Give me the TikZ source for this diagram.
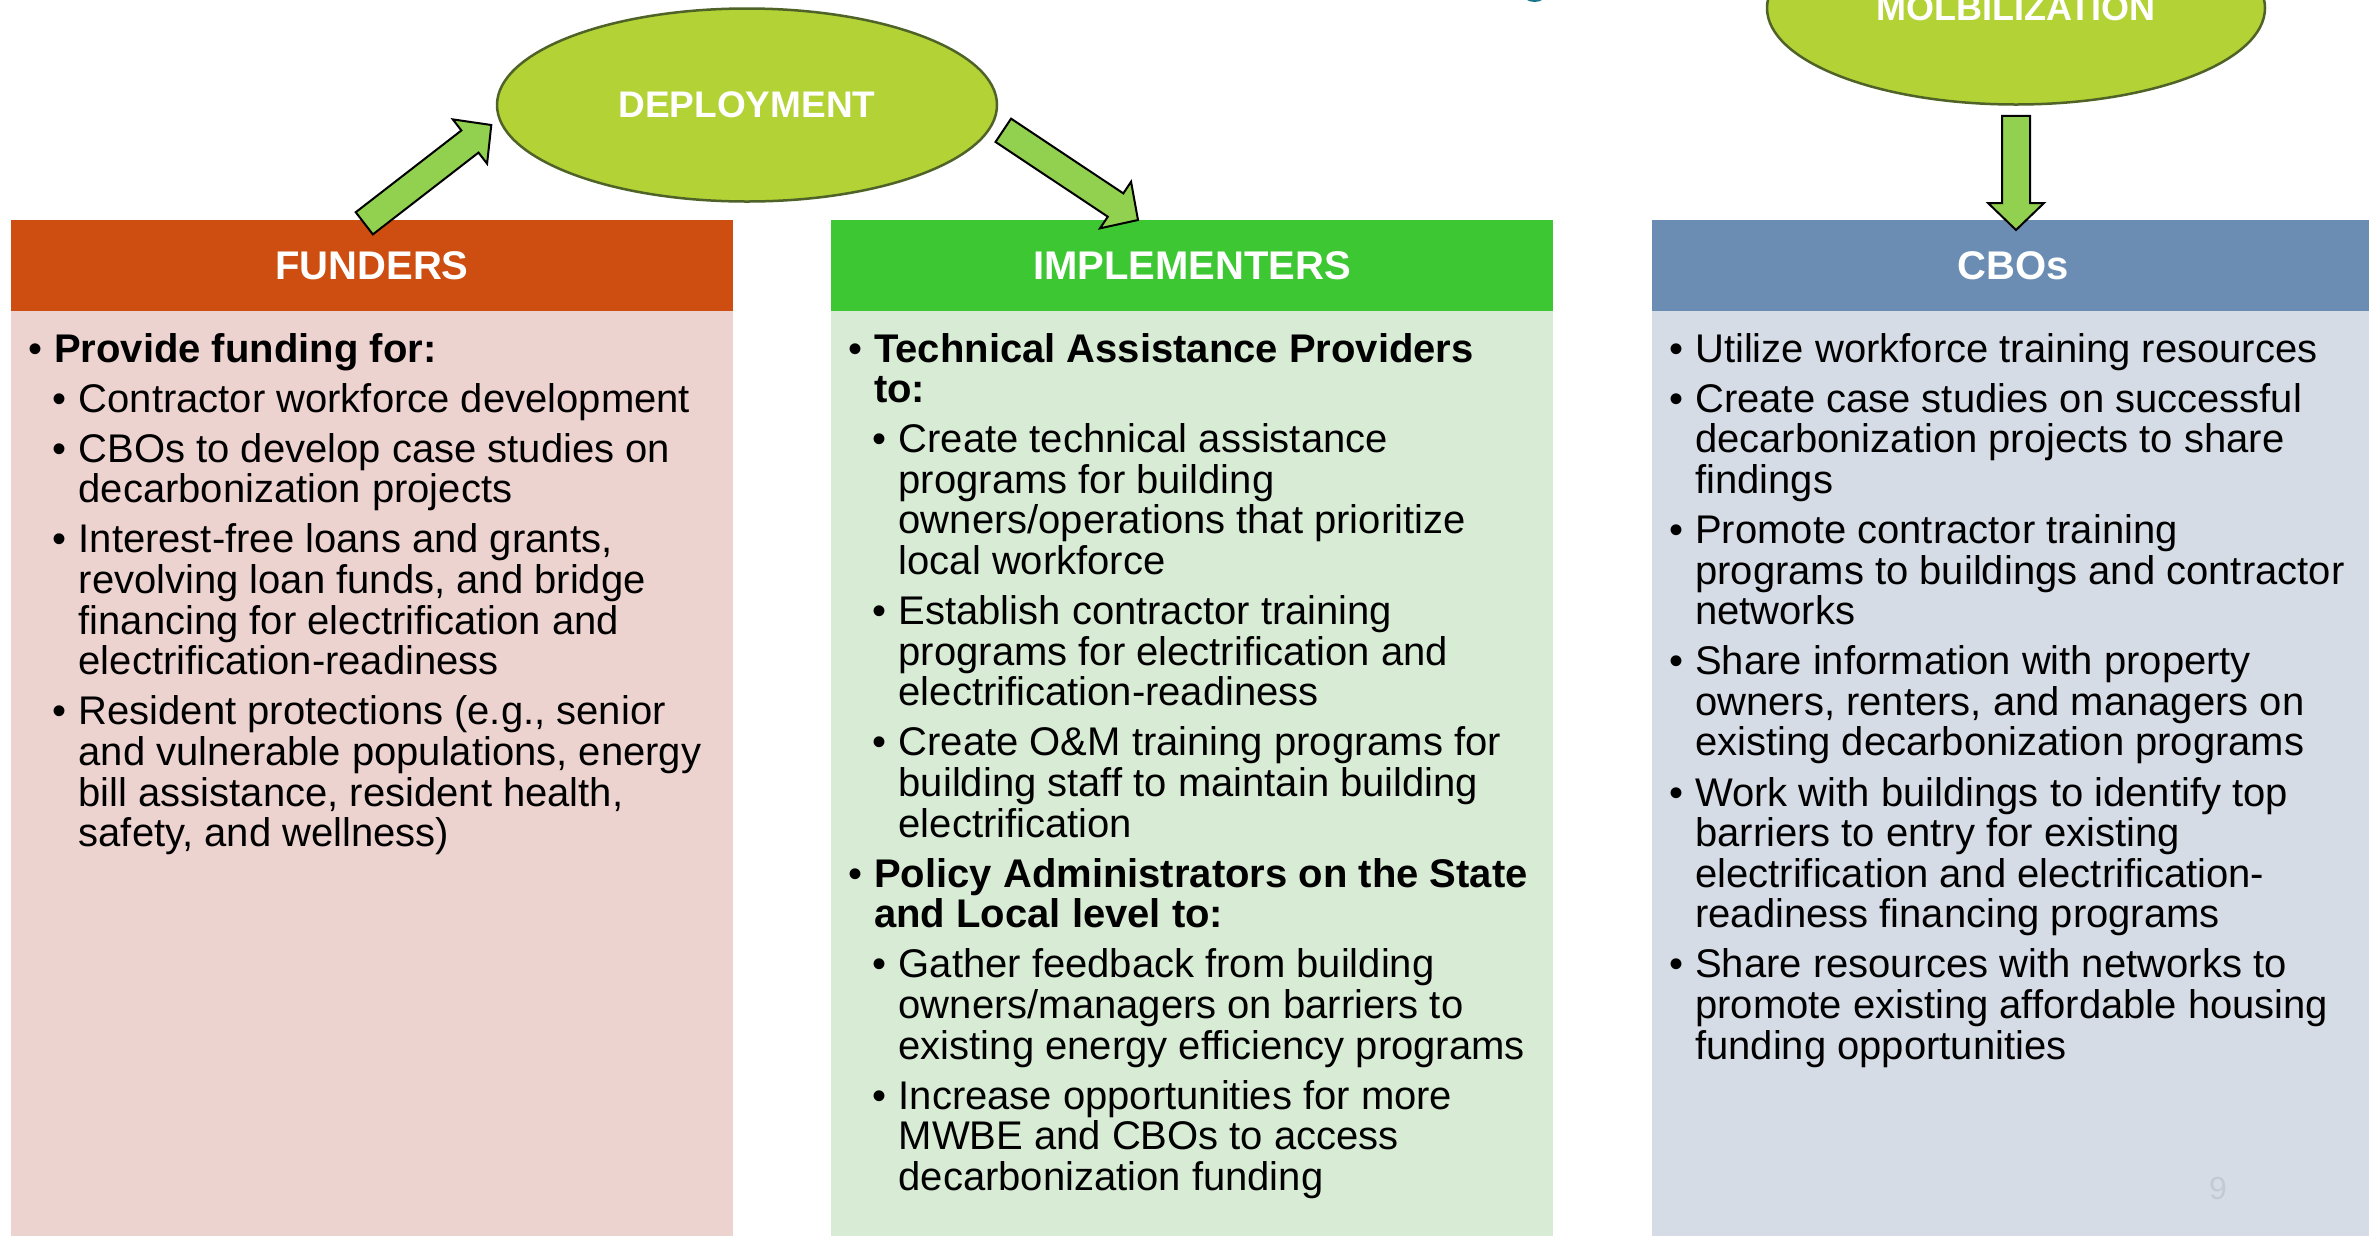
\documentclass[tikz,border=0pt]{standalone}
\usepackage{fontspec}
\setmainfont{Liberation Sans}
\usetikzlibrary{shapes.geometric,calc}
\definecolor{fundC}{HTML}{CD4E10}
\definecolor{fundL}{HTML}{EDD3D0}
\definecolor{implC}{HTML}{3DC833}
\definecolor{implL}{HTML}{D8EBD5}
\definecolor{cboC}{HTML}{6B8DB3}
\definecolor{cboL}{HTML}{D6DCE5}
\definecolor{ellC}{HTML}{B2D235}
\definecolor{ellD}{HTML}{4F6228}
\definecolor{arrC}{HTML}{92D050}
\definecolor{pgC}{HTML}{C3CAD4}
\definecolor{tealC}{HTML}{17768A}
\newcommand\itA[1]{\par\hangindent=43pt\hangafter=1\noindent\hbox to 43pt{\hspace{17.5pt}\textbullet\hss}#1\par}
\newcommand\itB[1]{\par\hangindent=67.5pt\hangafter=1\noindent\hbox to 67.5pt{\hspace{41.5pt}\textbullet\hss}#1\par}
\newcommand\colbox[2]{\parbox[t]{#1}{\fontsize{40}{40.6}\selectfont\frenchspacing\parskip=9.5pt\relax #2}}
\newcommand\blkarrow[2]{%
  \coordinate (#1-h) at ($(#2)!27pt!(#1)$);
  \draw[blk] ($(#1)!14pt!90:(#2)$) -- ($(#1-h)!14pt!-90:(#1)$) -- ($(#1-h)!28pt!-90:(#1)$) -- (#2)
    -- ($(#1-h)!28pt!90:(#1)$) -- ($(#1-h)!14pt!90:(#1)$) -- ($(#1)!14pt!-90:(#2)$) -- cycle;}
\begin{document}
\begin{tikzpicture}[x=1pt,y=-1pt,
  hdr/.style={draw=none, minimum height=91pt, inner sep=0pt, text=white, font=\fontsize{40}{48}\selectfont\bfseries},
  hdrtext/.style={inner sep=0pt, text=white, font=\fontsize{40}{48}\selectfont\bfseries},
  bodybox/.style={anchor=north west, minimum height=940pt, inner sep=0pt, draw=none},
  ell/.style={ellipse, fill=ellC, draw=ellD, line width=2.5pt, minimum width=500pt, minimum height=193pt, text=white, font=\fontsize{37}{44}\selectfont\bfseries},
  blk/.style={fill=arrC, draw=black, line width=2pt, line join=miter},
  coltext/.style={anchor=base west, inner sep=0pt}]
\clip (0,0) rectangle (2369,1235);
\fill[white] (0,0) rectangle (2369,1235);
% teal fragment at top edge
\fill[tealC] (1534.5,-8) ellipse (13pt and 10pt);
% column bodies
\node[bodybox, fill=fundL, minimum width=722pt] (fundB) at (11,311) {};
\node[bodybox, fill=implL, minimum width=722pt] (implB) at (831,311) {};
\node[bodybox, fill=cboL, minimum width=717pt] (cboB) at (1652,311) {};
% headers
\node[hdr, fill=fundC, minimum width=722pt] (fundH) at (372,265.5) {FUNDERS};
\node[hdr, fill=implC, minimum width=722pt] (implH) at (1192,265.5) {IMPLEMENTERS};
\node[hdr, fill=cboC, minimum width=717pt] (cboH) at (2010.5,265.5) {};
\node[hdrtext] (cboHt) at (2013.5,265.5) {CBOs};
% ellipses
\node[ell] (dep) at (747,105) {DEPLOYMENT};
\node[ell, font=\fontsize{36}{43}\selectfont\bfseries, minimum width=498pt] (mob) at (2016,8) {MOLBILIZATION};
% arrows
\coordinate (a1t) at (364.3,223.3);
\coordinate (a1p) at (491.3,125);
\coordinate (a2t) at (1003.3,130.3);
\coordinate (a2p) at (1138,220);
\coordinate (a3t) at ($(mob.south)+(0,10)$);
\coordinate (a3p) at (2016,230);
\blkarrow{a1t}{a1p}
\blkarrow{a2t}{a2p}
\blkarrow{a3t}{a3p}
% texts
\node[coltext] (fundT) at (11,362) {\colbox{722pt}{%
\itA{\textbf{Provide funding for:}}
\itB{Contractor workforce development}
\itB{CBOs to develop case studies on\\ decarbonization projects}
\itB{Interest-free loans and grants,\\ revolving loan funds, and bridge\\ financing for electrification and\\ electrification-readiness}
\itB{Resident protections (e.g., senior\\ and vulnerable populations, energy\\ bill assistance, resident health,\\ safety, and wellness)}
}};
\node[coltext] (implT) at (831,362) {\colbox{722pt}{%
\itA{\textbf{Technical Assistance Providers\\ to:}}
\itB{Create technical assistance\\ programs for building\\ owners/operations that prioritize\\ local workforce}
\itB{Establish contractor training\\ programs for electrification and\\ electrification-readiness}
\itB{Create O\&M training programs for\\ building staff to maintain building\\ electrification}
\itA{\textbf{Policy Administrators on the State\\ and Local level to:}}
\itB{Gather feedback from building\\ owners/managers on barriers to\\ existing energy efficiency programs}
\itB{Increase opportunities for more\\ MWBE and CBOs to access\\ decarbonization funding}
}};
\node[coltext] (cboT) at (1652,362) {\colbox{717pt}{%
\itA{Utilize workforce training resources}
\itA{Create case studies on successful\\ decarbonization projects to share\\ findings}
\itA{Promote contractor training\\ programs to buildings and contractor\\ networks}
\itA{Share information with property\\ owners, renters, and managers on\\ existing decarbonization programs}
\itA{Work with buildings to identify top\\ barriers to entry for existing\\ electrification and electrification-\\ readiness financing programs}
\itA{Share resources with networks to\\ promote existing affordable housing\\ funding opportunities}
}};
\node[text=pgC, font=\fontsize{32}{38}\selectfont, inner sep=0pt] (pnum) at (2218,1188) {9};
\end{tikzpicture}
\end{document}
